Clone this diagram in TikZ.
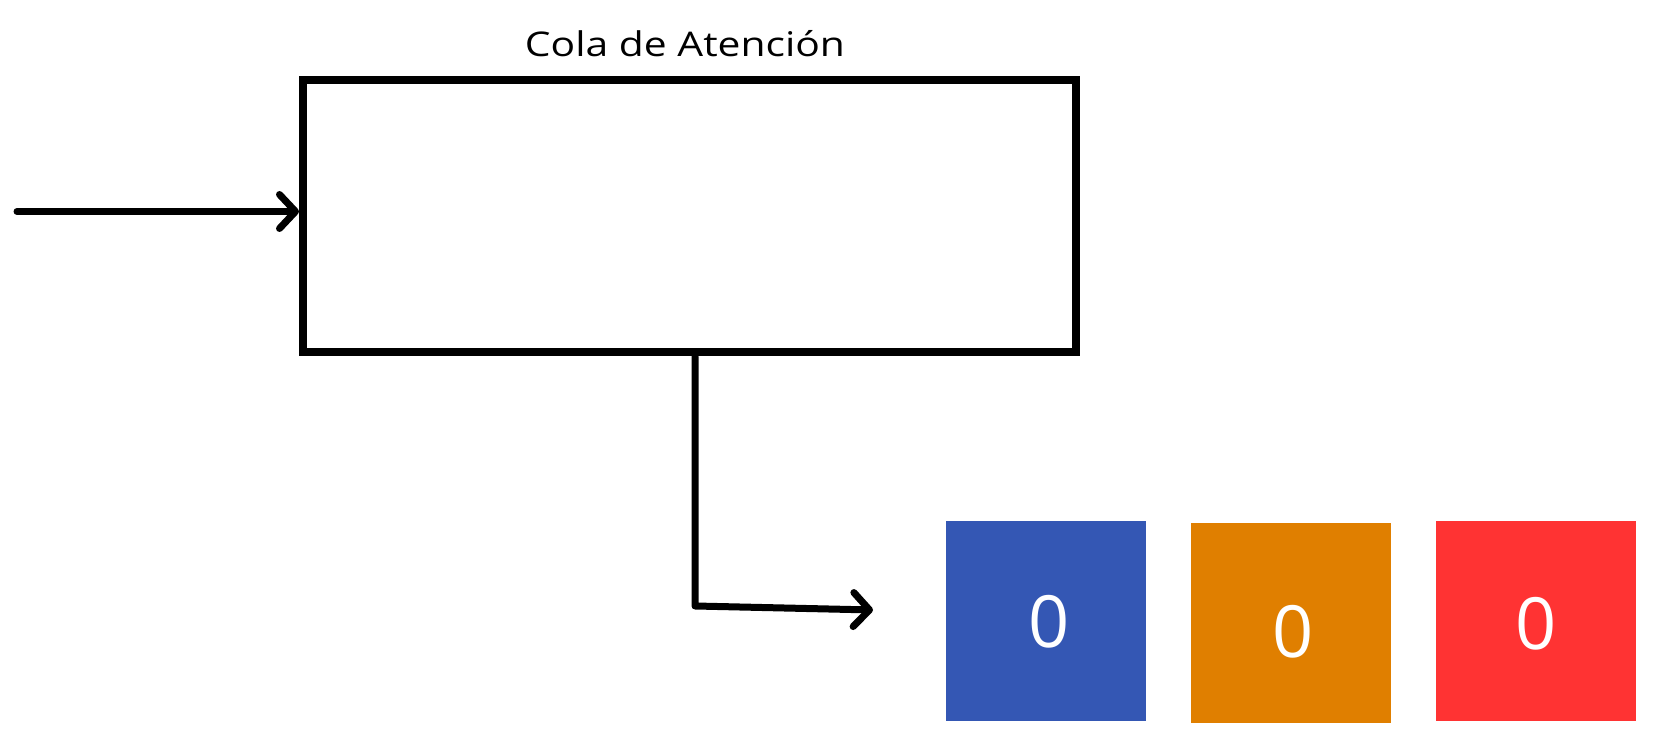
\documentclass[tikz,border=0pt]{standalone}
\usepackage{fontspec}
\setmainfont{Open Sans}
\newfontfamily\titlefont[FakeStretch=1.2]{Open Sans}
\usetikzlibrary{arrows.meta}
\definecolor{cblue}{HTML}{3457B4}
\definecolor{corange}{HTML}{E07F00}
\definecolor{cred}{HTML}{FF3333}
\tikzset{
  queuebox/.style={draw=black,line width=4pt,rectangle,inner sep=0pt,
    minimum width=386.5pt,minimum height=136.25pt,fill=white},
  slot/.style={rectangle,inner sep=0pt,minimum size=100pt},
  digit/.style={inner sep=0pt,text=white,font=\fontsize{36}{40}\selectfont},
  conn/.style={line width=3.5pt,line cap=round,line join=round,
    -{Straight Barb[length=8pt,width=17pt,round]}},
  titletext/.style={font=\titlefont\fontsize{17}{20}\selectfont,inner sep=0pt,anchor=base}
}
\begin{document}
\begin{tikzpicture}[x=0.5pt,y=-0.5pt]
\useasboundingbox (0,0) rectangle (1677,747);
\node[queuebox] (main) at (689.5,216.25) {};
\node[titletext] (title) at (685,57) {Cola de Atención};
\coordinate (src) at (17,211.5);
\draw[conn] (src) -- (src -| main.west);
\coordinate (bend) at (695,606);
\coordinate (tip) at (873,610);
\draw[conn] (main.south -| bend) -- (bend) -- (tip);
\node[slot,fill=cblue] (s1) at (1046,621) {};
\node[slot,fill=corange] (s2) at (1291,623) {};
\node[slot,fill=cred] (s3) at (1536,621) {};
\node[digit] (d1) at (1049,622) {0};
\node[digit] (d2) at (1293,632) {0};
\node[digit] (d3) at (1536,624) {0};
\end{tikzpicture}
\end{document}
